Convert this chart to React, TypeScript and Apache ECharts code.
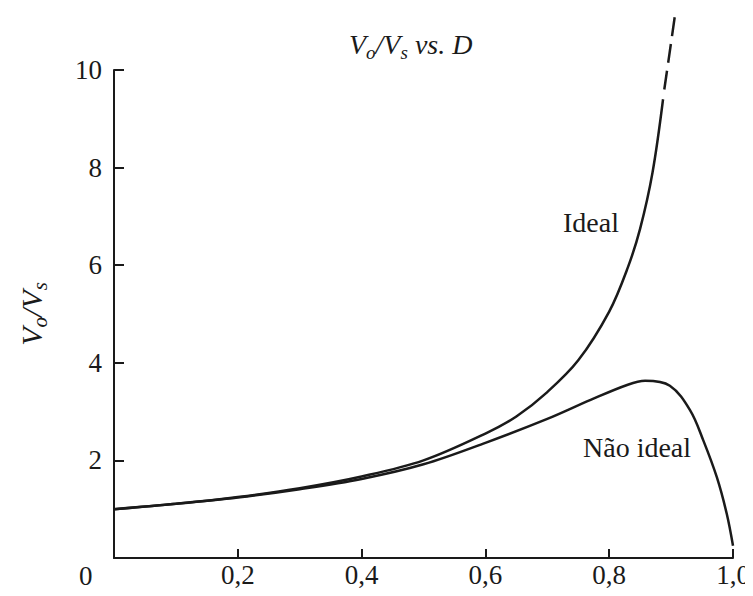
import React, { useEffect, useRef } from "react";
import * as echarts from "echarts";

// Duty cycle D and Vo/Vs values
const D_IDEAL = [0, 0.1, 0.2, 0.3, 0.4, 0.5, 0.6, 0.65, 0.7, 0.75, 0.8, 0.83, 0.85, 0.87, 0.887];
const V_IDEAL = [1.0, 1.11, 1.25, 1.43, 1.67, 2.0, 2.55, 2.9, 3.4, 4.05, 5.05, 5.95, 6.75, 7.9, 9.4];
const D_IDEAL_DASH = [0.889, 0.897, 0.906];
const V_IDEAL_DASH = [9.6, 10.3, 11.1];
const D_NONIDEAL = [0, 0.1, 0.2, 0.3, 0.4, 0.5, 0.6, 0.7, 0.77, 0.83, 0.858, 0.898, 0.931, 0.952, 0.974, 0.99, 1.0];
const V_NONIDEAL = [1.0, 1.11, 1.24, 1.41, 1.62, 1.92, 2.36, 2.85, 3.24, 3.55, 3.63, 3.53, 3.02, 2.41, 1.65, 0.9, 0.25];

const X_TICKS = [0, 0.2, 0.4, 0.6, 0.8, 1.0];
const Y_TICKS = [0, 2, 4, 6, 8, 10];
const TITLE_PARTS = ["V", "o", "/V", "s", " vs. D"];
const LABEL_IDEAL = "Ideal";
const LABEL_NONIDEAL = "Não ideal";

const SERIF = "Liberation Serif";
const INK = "#1a1a1a";
const FS = 27;

const zip = (xs: number[], ys: number[]) => xs.map((x, i) => [x, ys[i]]);

export default function App() {
  const ref = useRef<HTMLDivElement>(null);
  useEffect(() => {
    if (!ref.current) return;
    const chart = echarts.init(ref.current, null, { renderer: "svg" });
    const richT = {
      i: { fontFamily: SERIF, fontStyle: "italic", fontWeight: "normal", fontSize: 28, color: INK, verticalAlign: "middle", lineHeight: 36 },
      s: { fontFamily: SERIF, fontStyle: "italic", fontWeight: "normal", fontSize: 19, color: INK, verticalAlign: "bottom", lineHeight: 36 },
    };
    const richN = {
      i: { fontFamily: SERIF, fontStyle: "italic", fontWeight: "normal", fontSize: 30, color: INK, verticalAlign: "middle", lineHeight: 38 },
      s: { fontFamily: SERIF, fontStyle: "italic", fontWeight: "normal", fontSize: 21, color: INK, verticalAlign: "bottom", lineHeight: 38 },
    };
    const richTitle = `{i|${TITLE_PARTS[0]}}{s|${TITLE_PARTS[1]}}{i|${TITLE_PARTS[2]}}{s|${TITLE_PARTS[3]}}{i|${TITLE_PARTS[4]}}`;
    const richY = `{i|${TITLE_PARTS[0]}}{s|${TITLE_PARTS[1]}}{i|${TITLE_PARTS[2]}}{s|${TITLE_PARTS[3]}}`;
    const lineBase = { type: "line", showSymbol: false, smooth: 0.35, clip: false, silent: true };
    const txt = (text: string, left: number, top: number, size: number) => ({
      type: "text",
      left,
      top,
      style: { text, fontFamily: SERIF, fontSize: size, fill: INK },
    });
    chart.setOption({
      animation: false,
      backgroundColor: "#ffffff",
      title: {
        text: richTitle,
        left: 336,
        top: 13,
        textStyle: { fontWeight: "normal", fontFamily: SERIF, rich: richT },
      },
      grid: { left: 105, right: 20, top: 62, bottom: 28 },
      xAxis: {
        type: "value",
        min: X_TICKS[0],
        max: X_TICKS[X_TICKS.length - 1],
        interval: 0.2,
        axisLine: { lineStyle: { color: INK, width: 2 } },
        axisTick: { inside: true, length: 9, lineStyle: { color: INK, width: 2 } },
        axisLabel: {
          margin: 3,
          fontFamily: SERIF,
          fontSize: FS,
          color: INK,
          formatter: (v: number) => (v === 0 ? "" : v.toFixed(1).replace(".", ",")),
        },
        splitLine: { show: false },
      },
      yAxis: {
        type: "value",
        min: Y_TICKS[0],
        max: Y_TICKS[Y_TICKS.length - 1],
        interval: 2,
        name: richY,
        nameLocation: "middle",
        nameRotate: 90,
        nameGap: 64,
        nameTextStyle: { fontFamily: SERIF, rich: richN },
        axisLine: { lineStyle: { color: INK, width: 2 } },
        axisTick: { inside: true, length: 10, lineStyle: { color: INK, width: 2 } },
        axisLabel: {
          margin: 12,
          fontFamily: SERIF,
          fontSize: FS,
          color: INK,
          formatter: (v: number) => (v === 0 ? "" : String(v)),
        },
        splitLine: { show: false },
      },
      graphic: [
        txt("0", 71, 554, FS),
        txt(LABEL_IDEAL, 555, 200, 28),
        txt(LABEL_NONIDEAL, 575, 425, 28),
      ],
      series: [
        { ...lineBase, name: "Ideal", data: zip(D_IDEAL, V_IDEAL), lineStyle: { color: INK, width: 2.5 } },
        {
          ...lineBase,
          name: "Ideal (dashed)",
          smooth: false,
          data: zip(D_IDEAL_DASH, V_IDEAL_DASH),
          lineStyle: { color: INK, width: 2.5, type: [19, 8] },
        },
        { ...lineBase, name: "Não ideal", data: zip(D_NONIDEAL, V_NONIDEAL), lineStyle: { color: INK, width: 2.5 } },
      ],
    });
    return () => chart.dispose();
  }, []);
  return <div ref={ref} style={{ width: 745, height: 580 }} />;
}
